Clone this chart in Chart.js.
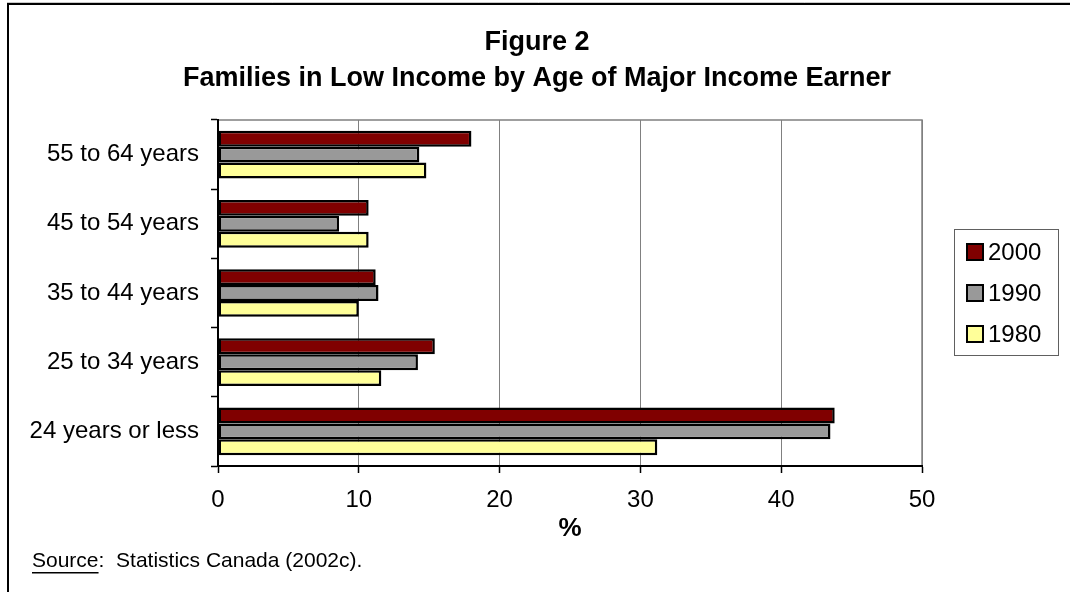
<!DOCTYPE html>
<html>
<head>
<meta charset="utf-8">
<script src="https://cdn.jsdelivr.net/npm/chart.js@4"></script>
<style>
  body { margin: 0; background: #fff; }
  #wrap { position: relative; width: 1070px; height: 592px; }
</style>
</head>
<body>
<div id="wrap"><canvas id="lowIncome"></canvas></div>
<script>
// age groups, top to bottom
var ageGroups = ['55 to 64 years', '45 to 54 years', '35 to 44 years', '25 to 34 years', '24 years or less'];
// % of families in low income
var y2000 = [18.0, 10.7, 11.2, 15.4, 43.8];
var y1990 = [14.3, 8.6, 11.4, 14.2, 43.5];
var y1980 = [14.8, 10.7, 10.0, 11.6, 31.2];
var xTicks = [0, 10, 20, 30, 40, 50];

var FONT = "'Liberation Sans', Arial, sans-serif";

// frame, titles, plot border, legend, source line
var decor = {
  id: 'decor',
  beforeDraw: function (chart) {
    var ctx = chart.ctx;
    var a = chart.chartArea;
    ctx.save();
    ctx.fillStyle = '#fff';
    ctx.fillRect(0, 0, chart.width, chart.height);
    // outer frame (top + left visible)
    ctx.strokeStyle = '#c8c8c8';
    ctx.lineWidth = 1;
    ctx.beginPath(); ctx.moveTo(7, 2.5); ctx.lineTo(1070, 2.5); ctx.stroke();
    ctx.strokeStyle = '#000';
    ctx.lineWidth = 2;
    ctx.beginPath(); ctx.moveTo(1070, 4); ctx.lineTo(8, 4); ctx.lineTo(8, 592); ctx.stroke();
    // plot area border (gray)
    ctx.strokeStyle = '#808080';
    ctx.lineWidth = 1.5;
    ctx.strokeRect(a.left, a.top, a.right - a.left, a.bottom - a.top);
    ctx.restore();
  },
  afterDraw: function (chart) {
    var ctx = chart.ctx;
    ctx.save();
    ctx.fillStyle = '#000';
    ctx.textAlign = 'center';
    ctx.textBaseline = 'middle';
    ctx.font = 'bold 27px ' + FONT;
    ctx.fillText('Figure 2', 537, 43);
    ctx.fillText('Families in Low Income by Age of Major Income Earner', 537, 79);

    // legend
    ctx.strokeStyle = '#606060';
    ctx.lineWidth = 1;
    ctx.strokeRect(954.5, 229.5, 104, 126);
    ctx.textAlign = 'left';
    ctx.font = '24px ' + FONT;
    chart.data.datasets.forEach(function (ds, i) {
      var y = 252 + i * 41;
      ctx.fillStyle = ds.backgroundColor;
      ctx.fillRect(967, y - 8, 16, 16);
      ctx.strokeStyle = '#000';
      ctx.lineWidth = 2;
      ctx.strokeRect(967, y - 8, 16, 16);
      ctx.fillStyle = '#000';
      ctx.fillText(ds.label, 988, y + 1);
    });

    // source note
    ctx.font = '21px ' + FONT;
    ctx.fillText('Source', 32, 561);
    var w = ctx.measureText('Source').width;
    ctx.fillText(':  Statistics Canada (2002c).', 32 + w, 561);
    ctx.fillRect(32, 572, w, 1.5);
    ctx.restore();
  }
};

var data = {
  labels: ageGroups,
  datasets: [
    { label: '2000', data: y2000, backgroundColor: '#800000' },
    { label: '1990', data: y1990, backgroundColor: '#999999' },
    { label: '1980', data: y1980, backgroundColor: '#ffff99' }
  ]
};

var options = {
  indexAxis: 'y',
  responsive: true,
  maintainAspectRatio: false,
  animation: false,
  layout: { padding: { top: 120, right: 148, left: 0, bottom: 0 } },
  datasets: {
    bar: {
      borderColor: '#000',
      borderWidth: 2.5,
      borderSkipped: false,
      categoryPercentage: 0.69,
      barPercentage: 1.0
    }
  },
  plugins: {
    legend: { display: false },
    title: { display: false },
    tooltip: { enabled: false }
  },
  scales: {
    x: {
      min: 0,
      max: 50,
      afterFit: function (s) { s.height = 126; },
      afterBuildTicks: function (s) { s.ticks = xTicks.map(function (v) { return { value: v }; }); },
      ticks: { color: '#000', font: { family: FONT, size: 24 }, padding: 13 },
      grid: { color: '#808080', lineWidth: 1, tickLength: 7, tickColor: '#000', tickWidth: 1.5 },
      border: { color: '#000', width: 2 },
      title: {
        display: true,
        text: '%',
        color: '#000',
        font: { family: FONT, size: 26, weight: 'bold' },
        padding: { top: 0, bottom: 48 }
      }
    },
    y: {
      afterFit: function (s) { s.width = 218; },
      ticks: { color: '#000', font: { family: FONT, size: 24 }, padding: 12 },
      grid: { drawOnChartArea: false, offset: true, tickLength: 7, tickColor: '#000', tickWidth: 1.5 },
      border: { color: '#000', width: 2 }
    }
  }
};

var ctx = document.getElementById('lowIncome');
var myChart = new Chart(ctx, {
  type: 'bar',
  data: data,
  options: options,
  plugins: [decor]
});
</script>
</body>
</html>
